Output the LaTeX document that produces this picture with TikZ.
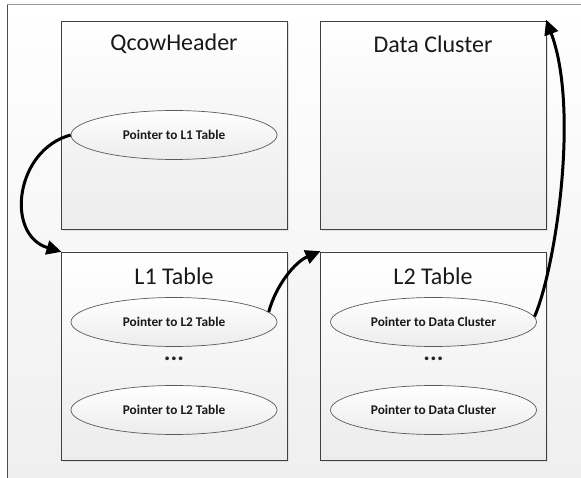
\documentclass[tikz,border=0pt]{standalone}
\usepackage{fontspec}
\setmainfont{Carlito}
\usetikzlibrary{arrows.meta,shapes.geometric}
\definecolor{bgbot}{HTML}{EFEFEF}
\definecolor{boxbot}{HTML}{ECECEC}
\definecolor{boxline}{HTML}{404040}
\definecolor{elline}{HTML}{5A5A5A}
\tikzset{
  box/.style={draw=boxline, line width=0.9pt, top color=white, bottom color=boxbot,
    minimum width=226pt, minimum height=208pt, inner sep=0pt},
  boxshadow/.style={fill=black!12, draw=none, minimum width=226pt, minimum height=208pt, inner sep=0pt},
  title/.style={font=\fontsize{24}{28}\selectfont, text=black!90, inner sep=0pt},
  ptr/.style={ellipse, draw=elline, line width=0.7pt, top color=white, bottom color=boxbot,
    minimum width=206pt, minimum height=49pt, inner sep=0pt,
    font=\fontsize{13.3}{15}\selectfont\bfseries, text=black!90},
  dotsn/.style={font=\fontsize{25}{27}\selectfont\bfseries, inner sep=0pt, text=black!85},
  arr/.style={line width=3pt, black, -{Triangle[length=15pt,width=14pt]}, shorten >=-1pt}
}
\begin{document}
\begin{tikzpicture}[x=1pt,y=-1pt]
\useasboundingbox (0,0) rectangle (581,478);
% background
\path[top color=white, bottom color=bgbot] (7,5) rectangle (581,478);
\draw[line width=1pt, black!40] (7,5) -- (581,5);
\draw[line width=1pt, black!70] (7,5) -- (7,478);
% shadows
\node[boxshadow] (s1) at (176,127) {};
\node[boxshadow] (s2) at (435,127) {};
\node[boxshadow] (s3) at (176,358) {};
\node[boxshadow] (s4) at (435,358) {};
% boxes
\node[box] (qh) at (174,125) {};
\node[box] (dc) at (433,125) {};
\node[box] (l1) at (174,356) {};
\node[box] (l2) at (433,356) {};
% titles
\node[title] (tqh) at (174,44) {QcowHeader};
\node[title] (tdc) at (433,44) {Data Cluster};
\node[title] (tl1) at (174,276) {L1 Table};
\node[title] (tl2) at (433,276) {L2 Table};
% ellipses
\node[ptr] (e0) at (174,135) {Pointer to L1 Table};
\node[ptr] (e1) at (174,322) {Pointer to L2 Table};
\node[ptr] (e2) at (174,410) {Pointer to L2 Table};
\node[ptr] (e3) at (433.5,322) {Pointer to Data Cluster};
\node[ptr] (e4) at (433.5,410) {Pointer to Data Cluster};
% dots
\node[dotsn] (d1) at (174,359) {...};
\node[dotsn] (d2) at (433.5,359) {...};
% arrows
\draw[arr] (e0.west) .. controls (15,150) and (5,235) .. (l1.north west);
\draw[arr] (e1.6) .. controls (276,285) and (295,262) .. (l2.north west);
\draw[arr] (e3.3) .. controls (555,270) and (580,110) .. (dc.north east);
\end{tikzpicture}
\end{document}
